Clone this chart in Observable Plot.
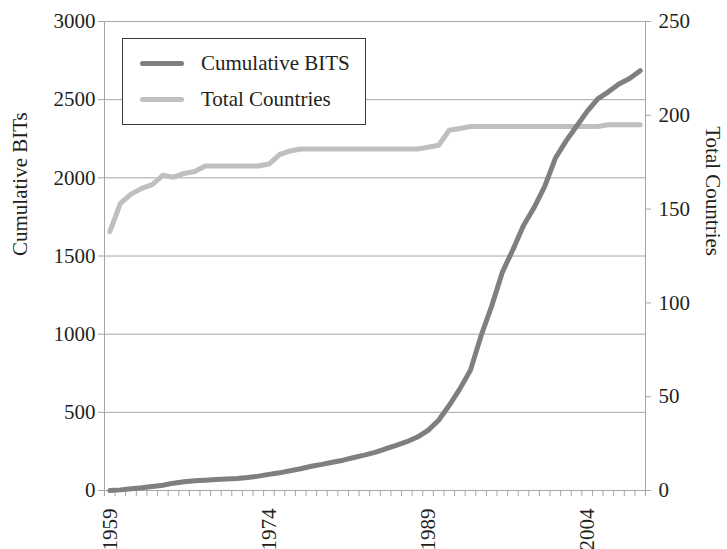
<!DOCTYPE html>
<html><head><meta charset="utf-8">
<script src="https://cdn.jsdelivr.net/npm/d3@7"></script>
<script src="https://cdn.jsdelivr.net/npm/@observablehq/plot@0.6"></script>
<style>
body{margin:0;background:#fff;}
#wrap{position:relative;width:727px;height:549px;font-family:"Liberation Serif","DejaVu Serif",serif;color:#231f20;}
#legend{position:absolute;left:122px;top:38px;width:242px;height:85px;border:1px solid #3a3a3a;background:#fff;}
.row{position:absolute;left:0;height:30px;display:flex;align-items:center;font-size:21px;white-space:nowrap;}
.sw{display:inline-block;width:44px;height:5px;border-radius:3px;margin-left:17px;margin-right:17px;}
</style></head><body><div id="wrap"></div>
<script>
const years = [1959,1960,1961,1962,1963,1964,1965,1966,1967,1968,1969,1970,1971,1972,1973,1974,1975,1976,1977,1978,1979,1980,1981,1982,1983,1984,1985,1986,1987,1988,1989,1990,1991,1992,1993,1994,1995,1996,1997,1998,1999,2000,2001,2002,2003,2004,2005,2006,2007,2008,2009];
const cumulativeBITS = [0,4,11,17,26,34,47,56,62,66,70,73,77,83,92,103,113,126,139,155,167,181,194,211,226,244,267,288,312,342,385,449,545,650,770,990,1180,1395,1540,1695,1810,1945,2125,2235,2330,2425,2505,2550,2600,2635,2685];
const totalCountries = [138,153,158,161,163,168,167,169,170,173,173,173,173,173,173,174,179,181,182,182,182,182,182,182,182,182,182,182,182,182,183,184,192,193,194,194,194,194,194,194,194,194,194,194,194,194,194,195,195,195,195];
const xTickLabels = [1959,1974,1989,2004];
const leftTicks = [0,500,1000,1500,2000,2500,3000];
const rightTicks = [0,50,100,150,200,250];
const seriesNames = ["Cumulative BITS","Total Countries"];
const seriesColors = ["#7f7f7f","#bfbfbf"];

const data = years.map((y,i)=>({year:y, bits:cumulativeBITS[i], countries:totalCountries[i]}));
const xDomain = [years[0]-0.5, years[years.length-1]+0.5];
const boundaries = years.map(y=>y-0.5).concat([years[years.length-1]+0.5]);
const y2 = d3.scaleLinear([0, 250], [0, 3000]);
const grey = "#a6a6a6";
const ink = "#231f20";
const serif = "Liberation Serif, DejaVu Serif, serif";

const plot = Plot.plot({
  width: 727, height: 549,
  marginLeft: 104, marginRight: 82, marginTop: 21, marginBottom: 59,
  style: {fontFamily: serif, fontSize: "21px", color: ink, background: "#fff"},
  x: {domain: xDomain},
  y: {domain: [0, 3000]},
  marks: [
    Plot.gridY(leftTicks, {stroke: grey, strokeOpacity: 1}),
    Plot.ruleX(xDomain, {stroke: grey}),
    Plot.axisY(leftTicks, {anchor: "left", tickSize: 6, tickPadding: 3, stroke: grey, fill: ink, label: null, fontFamily: serif, tickFormat: d => String(d)}),
    Plot.axisY(rightTicks, {anchor: "right", y: d => y2(d), tickSize: 5, tickPadding: 8, stroke: grey, fill: ink, label: null, fontFamily: serif, tickFormat: d => String(d)}),
    Plot.axisX(boundaries, {tickSize: 6, stroke: grey, label: null, tickFormat: () => ""}),
    Plot.axisX(xTickLabels, {tickSize: 0, tickRotate: -90, tickPadding: 18, fill: ink, label: null, fontFamily: serif, tickFormat: d => String(d)}),
    Plot.line(data, {x: "year", y: d => y2(d.countries), stroke: seriesColors[1], strokeWidth: 5, strokeLinejoin: "round", strokeLinecap: "round"}),
    Plot.line(data, {x: "year", y: "bits", stroke: seriesColors[0], strokeWidth: 5, strokeLinejoin: "round", strokeLinecap: "round"}),
    Plot.text(["Cumulative BITs"], {text: d => d, frameAnchor: "left", dx: -84, rotate: -90, fontSize: 21, fontFamily: serif, fill: ink}),
    Plot.text(["Total Countries"], {text: d => d, frameAnchor: "right", dx: 67, rotate: 90, fontSize: 21, fontFamily: serif, fill: ink})
  ]
});
const wrap = document.getElementById("wrap");
wrap.appendChild(plot);
const legend = document.createElement("div");
legend.id = "legend";
seriesNames.forEach((name, i) => {
  const row = document.createElement("div");
  row.className = "row";
  row.style.top = (9 + i * 36) + "px";
  const sw = document.createElement("span");
  sw.className = "sw";
  sw.style.background = seriesColors[i];
  const t = document.createElement("span");
  t.textContent = name;
  row.appendChild(sw); row.appendChild(t);
  legend.appendChild(row);
});
wrap.appendChild(legend);
</script>
</body></html>
